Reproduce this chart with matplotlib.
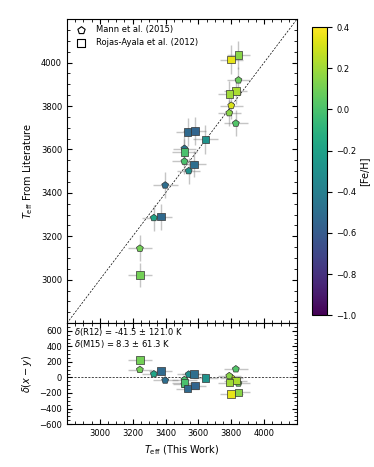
import numpy as np
import matplotlib
matplotlib.use("Agg")
import matplotlib.pyplot as plt
from matplotlib.ticker import MultipleLocator

plt.rcParams["font.size"] = 6
plt.rcParams["mathtext.fontset"] = "dejavusans"

# Mann et al. (2015) -- pentagons
m15_this = [3244, 3329, 3398, 3541, 3515, 3515, 3844, 3800, 3788, 3828]
m15_lit = [3144, 3285, 3435, 3501, 3545, 3604, 3919, 3802, 3768, 3720]
m15_feh = [0.10, -0.18, -0.50, -0.30, 0.00, -0.45, 0.08, 0.32, 0.15, 0.02]
m15_xerr = [75, 70, 75, 70, 75, 70, 70, 70, 70, 75]
m15_yerr = [60, 60, 60, 60, 60, 60, 60, 60, 60, 60]

# Rojas-Ayala et al. (2012) -- squares
r12_this = [3244, 3372, 3574, 3515, 3535, 3578, 3642, 3800, 3844, 3828, 3788]
r12_lit = [3021, 3290, 3531, 3589, 3680, 3684, 3646, 4014, 4036, 3870, 3855]
r12_feh = [0.10, -0.52, -0.50, 0.00, -0.52, -0.55, -0.28, 0.35, 0.15, 0.22, 0.20]
r12_xerr = [75, 70, 75, 75, 70, 70, 75, 70, 70, 70, 70]
r12_yerr = [55, 60, 60, 60, 65, 65, 65, 65, 65, 60, 60]

r12_stats = (-41.5, 121.0)
m15_stats = (8.3, 61.3)

fig = plt.figure(figsize=(3.74, 4.67), dpi=100)
ax = fig.add_axes([0.179, 0.308, 0.615, 0.651])
axr = fig.add_axes([0.179, 0.092, 0.615, 0.216], sharex=ax)
cax = fig.add_axes([0.834, 0.325, 0.040, 0.617])

lims = (2800, 4200)
norm = plt.Normalize(-1.0, 0.4)
cmap = "viridis"

ax.plot(lims, lims, "k--", lw=0.5, dashes=(3, 2), zorder=1)
axr.axhline(0, color="k", ls="--", lw=0.5, dashes=(3, 2), zorder=1)

for xs, ys, fe, xe, ye, mk, ms in [
    (m15_this, m15_lit, m15_feh, m15_xerr, m15_yerr, "p", 27),
    (r12_this, r12_lit, r12_feh, r12_xerr, r12_yerr, "s", 29),
]:
    xs = np.array(xs)
    ys = np.array(ys)
    ax.errorbar(xs, ys, xerr=xe, yerr=ye, fmt="none", ecolor="gray",
                alpha=0.45, lw=1, zorder=2)
    sc = ax.scatter(xs, ys, c=fe, cmap=cmap, norm=norm, marker=mk, s=ms,
                    edgecolors="0.2", linewidths=0.5, zorder=3)
    axr.errorbar(xs, xs - ys, xerr=xe, fmt="none", ecolor="gray",
                 alpha=0.45, lw=1, zorder=2)
    axr.scatter(xs, xs - ys, c=fe, cmap=cmap, norm=norm, marker=mk, s=ms,
                edgecolors="0.2", linewidths=0.5, zorder=3)

# legend handles
ax.scatter([], [], marker="p", s=30, facecolors="white", edgecolors="k",
           linewidths=0.8, label="Mann et al. (2015)")
ax.scatter([], [], marker="s", s=32, facecolors="white", edgecolors="k",
           linewidths=0.8, label="Rojas-Ayala et al. (2012)")
ax.legend(loc="upper left", frameon=False, fontsize=6, handletextpad=0.8,
          borderaxespad=0.3, labelspacing=0.5)

ax.set_xlim(lims)
ax.set_ylim(lims)
axr.set_ylim(-600, 700)

for a in (ax, axr):
    a.xaxis.set_major_locator(MultipleLocator(200))
    a.xaxis.set_minor_locator(MultipleLocator(50))
    a.yaxis.set_minor_locator(MultipleLocator(50))
    a.tick_params(which="both", direction="in", top=True, right=True)
    a.tick_params(which="major", length=3.5, width=0.8)
    a.tick_params(which="minor", length=2, width=0.6)
ax.set_yticks(np.arange(3000, 4001, 200))
axr.set_yticks(np.arange(-600, 601, 200))
ax.set_ylim(lims)
axr.set_ylim(-600, 700)
ax.tick_params(labelbottom=False)

ax.set_ylabel(r"$T_{\rm eff}$ From Literature", fontsize=7)
axr.set_ylabel(r"$\delta(x-y)$", fontsize=7)
axr.set_xlabel(r"$T_{\rm eff}$ (This Work)", fontsize=7)
axr.set_xticks(np.arange(3000, 4001, 200))
axr.set_xlim(lims)

axr.text(0.03, 0.97,
         r"$\delta$(R12) = %.1f $\pm$ %.1f K" % r12_stats + "\n"
         + r"$\delta$(M15) = %.1f $\pm$ %.1f K" % m15_stats,
         transform=axr.transAxes, va="top", ha="left", fontsize=6,
         linespacing=1.0)

cb = fig.colorbar(sc, cax=cax)
cb.set_label("[Fe/H]", fontsize=7, labelpad=2)
cb.set_ticks(np.arange(-1.0, 0.41, 0.2))

fig.savefig("out.png", dpi=100)
